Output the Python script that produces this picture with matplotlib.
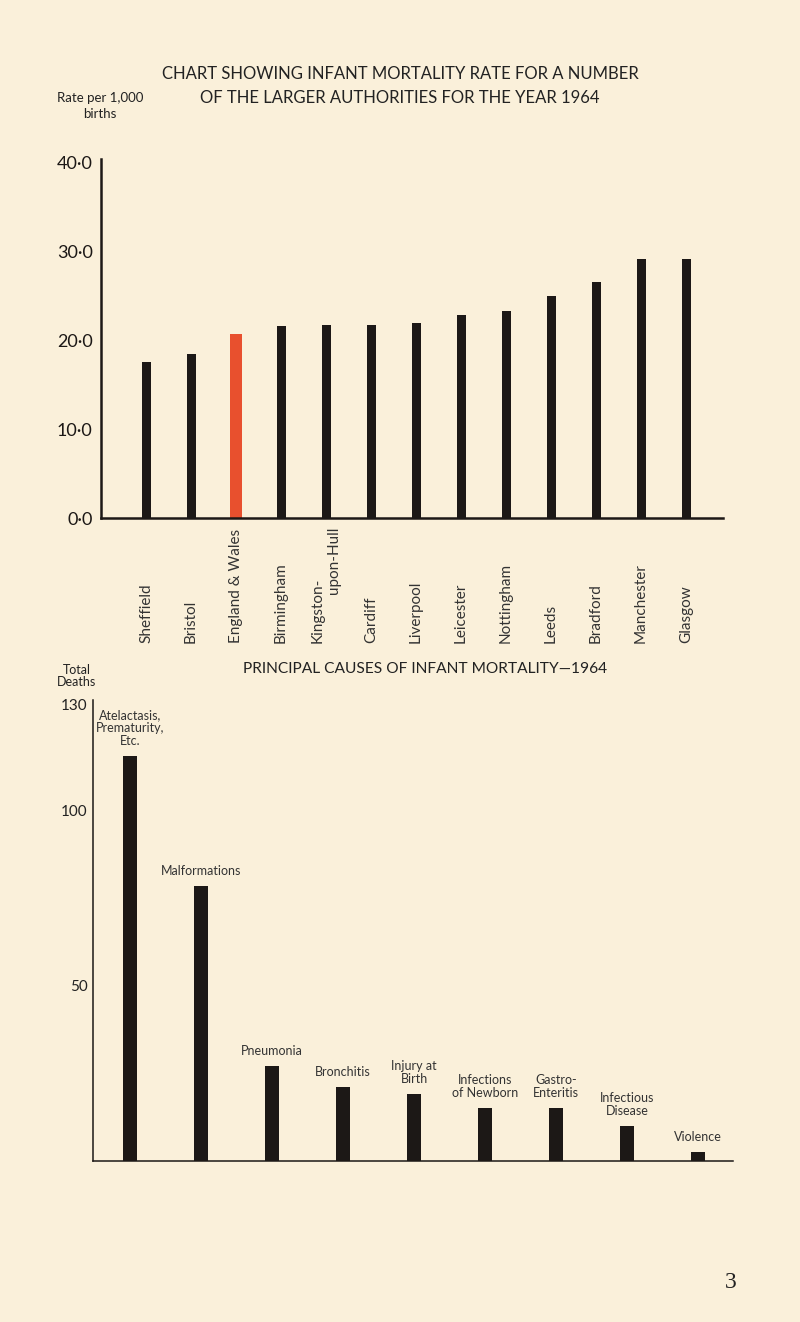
import matplotlib.pyplot as plt
import matplotlib.transforms as mtransforms

plt.rcParams['font.family'] = ['Lato', 'DejaVu Sans']

# top chart: infant mortality rate per 1,000 births, 1964
authorities = ['Sheffield', 'Bristol', 'England & Wales', 'Birmingham',
               'Kingston-\nupon-Hull', 'Cardiff', 'Liverpool', 'Leicester',
               'Nottingham', 'Leeds', 'Bradford', 'Manchester', 'Glasgow']
rates = [17.5, 18.4, 20.7, 21.6, 21.7, 21.7, 21.9, 22.9, 23.3, 25.0, 26.6, 29.2, 29.2]
rate_ticks = [0, 10, 20, 30, 40]
rate_tick_labels = ['0·0', '10·0', '20·0', '30·0', '40·0']

# bottom chart: principal causes, total deaths
causes = ['Atelactasis,\nPrematurity,\nEtc.', 'Malformations', 'Pneumonia',
          'Bronchitis', 'Injury at\nBirth', 'Infections\nof Newborn',
          'Gastro-\nEnteritis', 'Infectious\nDisease', 'Violence']
deaths = [115.5, 78.5, 27, 21, 19, 15, 15, 10, 2.5]
death_ticks = [50, 100, 130]

bg = '#FAF0DA'
ink = '#1c1816'
red = '#E8502E'
W, H = 800, 1322


def box(l, t, r, b):
    return [l / W, 1 - b / H, (r - l) / W, (b - t) / H]


def fy(py):
    return 1 - py / H


fig = plt.figure(figsize=(8, 13.22), dpi=100, facecolor=bg)

# ---- top chart
ax1 = fig.add_axes(box(101, 159, 723, 518))
ax1.set_facecolor(bg)
xs = list(range(len(authorities)))
colors = [red if a == 'England & Wales' else ink for a in authorities]
widths = [0.25 if a == 'England & Wales' else 0.2 for a in authorities]
ax1.bar(xs, rates, width=widths, color=colors)
ax1.set_xlim(-1.0, 12.82)
ax1.set_ylim(0, 40.4)
ax1.set_yticks(rate_ticks)
ax1.set_yticklabels(rate_tick_labels, fontsize=13, color=ink)
ax1.set_xticks([])
ax1.tick_params(axis='y', length=0, pad=6)
for s in ['top', 'right']:
    ax1.spines[s].set_visible(False)
for s in ['left', 'bottom']:
    ax1.spines[s].set_linewidth(1.8)
    ax1.spines[s].set_color(ink)

trans = mtransforms.blended_transform_factory(ax1.transData, fig.transFigure)
for x, name in zip(xs, authorities):
    lines = name.split('\n')
    if len(lines) == 1:
        ax1.text(x, fy(643), name, rotation=90, ha='center', va='bottom',
                 fontsize=11, color='#333', transform=trans)
    else:
        ax1.text(x - 0.18, fy(643), lines[0], rotation=90, ha='center', va='bottom',
                 fontsize=11, color='#333', transform=trans)
        ax1.text(x + 0.18, fy(527), lines[1], rotation=90, ha='center', va='top',
                 fontsize=11, color='#333', transform=trans)

fig.text(400 / W, fy(74), 'CHART SHOWING INFANT MORTALITY RATE FOR A NUMBER',
         ha='center', va='center', fontsize=12, color='#222')
fig.text(400 / W, fy(98), 'OF THE LARGER AUTHORITIES FOR THE YEAR 1964',
         ha='center', va='center', fontsize=12, color='#222')
fig.text(100 / W, fy(106), 'Rate per 1,000\nbirths', ha='center', va='center',
         fontsize=9.5, color='#222', linespacing=1.3)

# ---- bottom chart
ax2 = fig.add_axes(box(93, 700, 733, 1161))
ax2.set_facecolor(bg)
xs2 = list(range(len(causes)))
ax2.bar(xs2, deaths, width=0.2, color=ink)
ax2.set_xlim(-0.52, 8.49)
ax2.set_ylim(0, 131.4)
ax2.set_yticks(death_ticks)
ax2.set_yticklabels([str(t) for t in death_ticks], fontsize=11, color='#222')
ax2.set_xticks([])
ax2.tick_params(axis='y', length=0, pad=4)
for s in ['top', 'right']:
    ax2.spines[s].set_visible(False)
for s in ['left', 'bottom']:
    ax2.spines[s].set_linewidth(1.1)
    ax2.spines[s].set_color(ink)

for x, v, name in zip(xs2, deaths, causes):
    ax2.annotate(name, (x, v), xytext=(0, 9), textcoords='offset pixels',
                 ha='center', va='bottom', fontsize=9, color='#333',
                 linespacing=1.1)

fig.text(425 / W, fy(669), 'PRINCIPAL CAUSES OF INFANT MORTALITY\u20141964',
         ha='center', va='center', fontsize=11.2, color='#222')
fig.text(77 / W, fy(676), 'Total\nDeaths', ha='center', va='center',
         fontsize=9, color='#222', linespacing=1.1)

fig.text(731 / W, fy(1283), '3', ha='center', va='center', fontsize=17,
         color='#222', family='Liberation Serif')

fig.savefig('out.png', dpi=100, facecolor=bg)
